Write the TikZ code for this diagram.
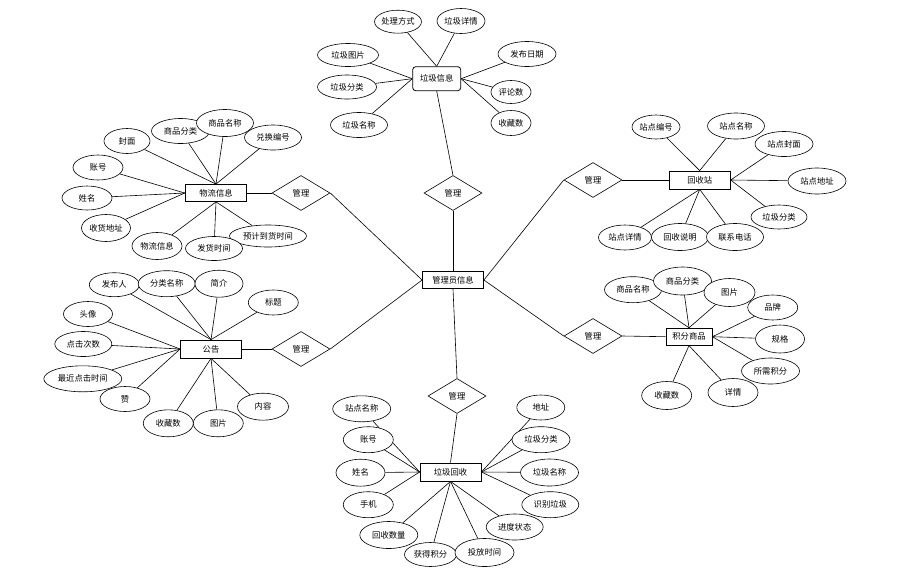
\documentclass[tikz,border=0pt]{standalone}
\usepackage{fontspec}
\setmainfont{Noto Sans CJK SC}
\usetikzlibrary{shapes.geometric}
\pgfdeclarelayer{background}
\pgfsetlayers{background,main}
\begin{document}
\begin{tikzpicture}[x=1pt,y=-1pt,
  every node/.style={font=\fontsize{8.3}{9}\selectfont, inner sep=0pt},
  ent/.style={rectangle, draw, line width=0.8pt, fill=white, minimum width=61pt, minimum height=17.5pt},
  rel/.style={diamond, draw, line width=0.6pt, fill=white, minimum width=58pt, minimum height=35pt},
  attr/.style={ellipse, draw, line width=0.6pt, fill=white, minimum width=50pt, minimum height=25pt},
  link/.style={draw, line width=0.6pt}]
\useasboundingbox (0,0) rectangle (920,579);

% central entity and relations
\node[ent] (admin) at (453,280) {管理员信息};
\node[rel] (r1) at (453,193) {管理};
\node[rel] (r2) at (301,193) {管理};
\node[rel] (r3) at (301,349) {管理};
\node[rel] (r4) at (593,180) {管理};
\node[rel] (r5) at (593,336) {管理};
\node[rel] (r6) at (457,396) {管理};

% entities
\node[ent, rounded corners=3pt, minimum width=48pt, minimum height=24pt] (trash) at (436.7,78.7) {垃圾信息};
\node[ent, minimum width=61.7pt, minimum height=17pt] (wl) at (216,193) {物流信息};
\node[ent, minimum width=61pt, minimum height=18pt] (hs) at (699.7,180) {回收站};
\node[ent, minimum width=46pt, minimum height=17pt] (jf) at (689,336.7) {积分商品};
\node[ent, minimum width=61pt, minimum height=18pt] (gg) at (211,349) {公告};
\node[ent, minimum width=61pt, minimum height=18pt] (lj) at (450.5,472) {垃圾回收};

% 垃圾信息 attributes
\node[attr, minimum width=44pt, minimum height=23pt] (t1) at (398,21.7) {处理方式};
\node[attr, minimum width=48pt, minimum height=25pt] (t2) at (461,21) {垃圾详情};
\node[attr, minimum width=61pt, minimum height=23pt] (t3) at (348,55) {垃圾图片};
\node[attr, minimum width=59pt, minimum height=24pt] (t4) at (347,87) {垃圾分类};
\node[attr, minimum width=57pt, minimum height=25pt] (t5) at (359,125) {垃圾名称};
\node[attr, minimum width=58pt, minimum height=25pt] (t6) at (527,54) {发布日期};
\node[attr, minimum width=40pt, minimum height=23pt] (t7) at (511,92) {评论数};
\node[attr, minimum width=40pt, minimum height=25pt] (t8) at (511,123) {收藏数};

% 物流信息 attributes
\node[attr, minimum width=46pt, minimum height=25pt] (w1) at (127,141) {封面};
\node[attr, minimum width=58pt, minimum height=25pt] (w2) at (180.5,131) {商品分类};
\node[attr, minimum width=57pt, minimum height=27pt] (w3) at (225,123) {商品名称};
\node[attr, minimum width=57pt, minimum height=25pt] (w4) at (273,137.5) {兑换编号};
\node[attr, minimum width=50pt, minimum height=25pt] (w5) at (98,167.5) {账号};
\node[attr, minimum width=50pt, minimum height=24pt] (w6) at (87,198) {姓名};
\node[attr, minimum width=49pt, minimum height=27pt] (w7) at (106,228) {收货地址};
\node[attr, minimum width=50pt, minimum height=27pt] (w8) at (157,246) {物流信息};
\node[attr, minimum width=77pt, minimum height=22pt] (w10) at (268,236) {预计到货时间};
\node[attr, minimum width=57pt, minimum height=24pt] (w9) at (214,248.5) {发货时间};

% 回收站 attributes
\node[attr, minimum width=48pt, minimum height=24pt] (h1) at (656,127) {站点编号};
\node[attr, minimum width=57pt, minimum height=26pt] (h2) at (736,126) {站点名称};
\node[attr, minimum width=58pt, minimum height=25pt] (h3) at (784,144) {站点封面};
\node[attr, minimum width=58pt, minimum height=26pt] (h4) at (817,181) {站点地址};
\node[attr, minimum width=56pt, minimum height=24pt] (h5) at (779,217) {垃圾分类};
\node[attr, minimum width=53pt, minimum height=25pt] (h8) at (625,237.5) {站点详情};
\node[attr, minimum width=57pt, minimum height=27pt] (h7) at (680,237) {回收说明};
\node[attr, minimum width=57pt, minimum height=27pt] (h6) at (735,237) {联系电话};

% 积分商品 attributes
\node[attr, minimum width=57pt, minimum height=26pt] (j1) at (633,289.7) {商品名称};
\node[attr, minimum width=58pt, minimum height=28pt] (j2) at (682.5,281) {商品分类};
\node[attr, minimum width=51pt, minimum height=28pt] (j3) at (729.5,292.5) {图片};
\node[attr, minimum width=50pt, minimum height=25pt] (j4) at (772.7,307.5) {品牌};
\node[attr, minimum width=49pt, minimum height=28pt] (j5) at (780,339) {规格};
\node[attr, minimum width=58pt, minimum height=26pt] (j6) at (770.5,371) {所需积分};
\node[attr, minimum width=50pt, minimum height=28pt] (j7) at (733,392.5) {详情};
\node[attr, minimum width=50pt, minimum height=28pt] (j8) at (666.7,395.5) {收藏数};

% 公告 attributes
\node[attr, minimum width=50pt, minimum height=24pt] (g1) at (114.3,284.7) {发布人};
\node[attr, minimum width=57pt, minimum height=26pt] (g2) at (166.7,283.7) {分类名称};
\node[attr, minimum width=48pt, minimum height=27pt] (g3) at (219,283.7) {简介};
\node[attr, minimum width=50pt, minimum height=25pt] (g4) at (273.3,302.5) {标题};
\node[attr, minimum width=49pt, minimum height=25pt] (g5) at (88,314) {头像};
\node[attr, minimum width=57pt, minimum height=25pt] (g6) at (83.3,344) {点击次数};
\node[attr, minimum width=78pt, minimum height=26pt] (g7) at (82.8,378.8) {最近点击时间};
\node[attr, minimum width=50pt, minimum height=25pt] (g8) at (125,399) {赞};
\node[attr, minimum width=50pt, minimum height=27pt] (g9) at (168.3,423.3) {收藏数};
\node[attr, minimum width=50pt, minimum height=27pt] (g10) at (218.3,423.3) {图片};
\node[attr, minimum width=51pt, minimum height=27pt] (g11) at (263,406.7) {内容};

% 垃圾回收 attributes
\node[attr, minimum width=58pt, minimum height=26pt] (l1) at (361.7,408.8) {站点名称};
\node[attr, minimum width=50pt, minimum height=26pt] (l2) at (368.3,439.7) {账号};
\node[attr, minimum width=49pt, minimum height=27pt] (l3) at (360.5,472.7) {姓名};
\node[attr, minimum width=50pt, minimum height=26pt] (l4) at (368.3,504.7) {手机};
\node[attr, minimum width=58pt, minimum height=27pt] (l5) at (388.8,535) {回收数量};
\node[attr, minimum width=52pt, minimum height=24pt] (l6) at (430.5,554.5) {获得积分};
\node[attr, minimum width=57pt, minimum height=26pt] (l8) at (514.7,527) {进度状态};
\node[attr, minimum width=59pt, minimum height=28pt] (l7) at (484.5,552.5) {投放时间};
\node[attr, minimum width=57pt, minimum height=26pt] (l9) at (550.3,504.7) {识别垃圾};
\node[attr, minimum width=58pt, minimum height=27pt] (l10) at (549.5,472.5) {垃圾名称};
\node[attr, minimum width=58pt, minimum height=26pt] (l11) at (541,439.7) {垃圾分类};
\node[attr, minimum width=48pt, minimum height=25pt] (l12) at (540.8,407.5) {地址};

\begin{pgfonlayer}{background}
  % relations
  \path[link] (r1.south) -- (admin.north);
  \path[link] (r1.north) -- (trash.south);
  \path[link] (r2.east) -- (admin.west);
  \path[link] (r2.west) -- (wl.east);
  \path[link] (r3.east) -- (admin.west);
  \path[link] (r3.west) -- (gg.east);
  \path[link] (r4.west) -- (admin.east);
  \path[link] (r4.east) -- (hs.west);
  \path[link] (r5.west) -- (admin.east);
  \path[link] (r5.east) -- (jf.west);
  \path[link] (r6.north) -- (admin.south);
  \path[link] (r6.south) -- (lj.north);
  % 垃圾信息
  \foreach \a in {t1,t2} \path[link] (\a) -- (trash.north);
  \foreach \a in {t3,t4,t5} \path[link] (\a) -- (trash.west);
  \foreach \a in {t6,t7,t8} \path[link] (\a) -- (trash.east);
  % 物流信息
  \foreach \a in {w1,w2,w3,w4} \path[link] (\a) -- (wl.north);
  \foreach \a in {w5,w6,w7} \path[link] (\a) -- (wl.west);
  \foreach \a in {w8,w9,w10} \path[link] (\a) -- (wl.south);
  % 回收站
  \foreach \a in {h1,h2} \path[link] (\a) -- (hs.north);
  \foreach \a in {h3,h4,h5} \path[link] (\a) -- (hs.east);
  \foreach \a in {h6,h7,h8} \path[link] (\a) -- (hs.south);
  % 积分商品
  \foreach \a in {j1,j2,j3} \path[link] (\a) -- (jf.north);
  \foreach \a in {j4,j5,j6} \path[link] (\a) -- (jf.east);
  \foreach \a in {j7,j8} \path[link] (\a) -- (jf.south);
  % 公告
  \foreach \a in {g1,g2,g3,g4} \path[link] (\a) -- (gg.north);
  \foreach \a in {g5,g6,g7,g8} \path[link] (\a) -- (gg.west);
  \foreach \a in {g9,g10,g11} \path[link] (\a) -- (gg.south);
  % 垃圾回收
  \foreach \a in {l1,l2,l3,l4} \path[link] (\a) -- (lj.west);
  \foreach \a in {l5,l6,l7,l8} \path[link] (\a) -- (lj.south);
  \foreach \a in {l9,l10,l11,l12} \path[link] (\a) -- (lj.east);
\end{pgfonlayer}
\end{tikzpicture}
\end{document}
